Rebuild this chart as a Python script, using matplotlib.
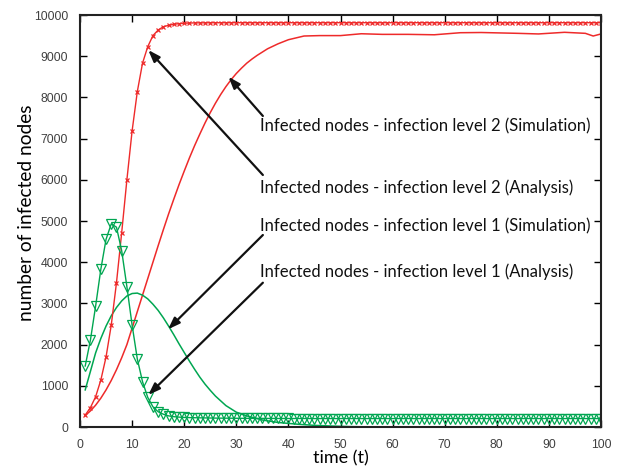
import numpy as np
import matplotlib.pyplot as plt

# time steps of the simulation runs
t_sim = list(range(1, 101))

# infection level 2, simulation (red, x markers)
lvl2_sim = [290, 470, 735, 1140, 1700, 2475, 3500, 4715, 6000, 7185,
            8140, 8830, 9230, 9500, 9635, 9715, 9750, 9775, 9790, 9800,
            9805, 9808, 9810, 9810, 9812, 9812, 9812, 9812, 9813, 9813,
            9813, 9813, 9813, 9813, 9813, 9813, 9813, 9813, 9813, 9813,
            9813, 9813, 9813, 9813, 9813, 9813, 9813, 9813, 9813, 9813,
            9813, 9813, 9813, 9813, 9813, 9813, 9813, 9813, 9813, 9813,
            9813, 9813, 9813, 9813, 9813, 9813, 9813, 9813, 9813, 9813,
            9813, 9813, 9813, 9813, 9813, 9813, 9813, 9813, 9813, 9813,
            9813, 9813, 9813, 9813, 9813, 9813, 9813, 9813, 9813, 9813,
            9813, 9813, 9813, 9813, 9813, 9813, 9813, 9813, 9813, 9813]

# infection level 1, simulation (green, triangles)
lvl1_sim = [1480, 2110, 2935, 3830, 4555, 4930, 4850, 4280, 3405, 2475,
            1650, 1100, 720, 490, 370, 310, 270, 250, 240, 232,
            228, 225, 222, 220, 218, 216, 215, 214, 213, 212,
            211, 210, 210, 209, 209, 208, 208, 207, 207, 207,
            206, 206, 206, 205, 205, 205, 205, 205, 205, 205,
            205, 205, 205, 205, 205, 205, 205, 205, 205, 205,
            205, 205, 205, 205, 205, 205, 205, 205, 205, 205,
            205, 205, 205, 205, 205, 205, 205, 205, 205, 205,
            205, 205, 205, 205, 205, 205, 205, 205, 205, 205,
            205, 205, 205, 205, 205, 205, 205, 205, 205, 205]

# infection level 2, analysis (red line)
t_an2 = [1, 2, 3, 4, 5, 6, 7, 8, 9, 10, 11, 12, 13, 14, 15, 16, 17, 18, 19,
         20, 21, 22, 23, 24, 25, 26, 27, 28, 29, 30, 31, 32, 33, 34, 35, 36,
         38, 40, 43, 46, 50, 54, 58, 63, 68, 73, 77, 84, 88, 93, 97, 98.5, 100]
lvl2_an = [280, 390, 530, 700, 900, 1130, 1390, 1680, 2000, 2400, 2800, 3200,
           3600, 4000, 4400, 4790, 5170, 5530, 5880, 6210, 6530, 6830, 7110,
           7380, 7630, 7860, 8070, 8260, 8430, 8580, 8710, 8830, 8930, 9020,
           9100, 9180, 9300, 9400, 9490, 9500, 9500, 9545, 9530, 9530, 9520,
           9570, 9575, 9555, 9540, 9580, 9555, 9490, 9540]

# infection level 1, analysis (green line)
t_an1 = [1, 2, 3, 4, 5, 6, 7, 8, 9, 10, 11, 12, 13, 14, 15, 16, 17, 18, 19,
         20, 21, 22, 23, 24, 25, 26, 28, 30, 32, 35, 38, 42, 45, 48, 52, 57,
         65, 80, 100]
lvl1_an = [900, 1350, 1800, 2150, 2450, 2700, 2900, 3060, 3180, 3240, 3250,
           3200, 3110, 2980, 2830, 2650, 2450, 2240, 2020, 1810, 1600, 1400,
           1210, 1040, 890, 750, 520, 360, 270, 170, 110, 65, 40, 25, 10, 0,
           0, 0, 0]

labels = ["Infected nodes - infection level 2 (Simulation)",
          "Infected nodes - infection level 2 (Analysis)",
          "Infected nodes - infection level 1 (Simulation)",
          "Infected nodes - infection level 1 (Analysis)"]
# (text x, text y, arrow tip x, arrow tip y) in data units
label_pos = [(34.5, 7290, 28.5, 8500),
             (34.5, 5818, 13.1, 9150),
             (34.5, 4879, 16.9, 2371),
             (34.5, 3770, 13.1, 777)]
tails = [(35.1, 7549), (35.1, 6117), (35.1, 4660), (35.1, 3502)]

red = '#ee2a2a'
green = '#00a651'

fig = plt.figure(figsize=(6.22, 4.71), dpi=100)
ax = fig.add_axes([80 / 622, 1 - 427 / 471, 521 / 622, 412 / 471])

ax.plot(t_an2, lvl2_an, color=red, lw=1.1)
ax.plot(t_an1, lvl1_an, color=green, lw=1.1)
ax.plot(t_sim, lvl2_sim, color=red, lw=1.0, marker='x', ms=3.5, mew=0.9)
ax.plot(t_sim, lvl1_sim, color=green, lw=1.0, marker='v', ms=7,
        mfc='none', mew=0.9)

for lab, (tx, ty, hx, hy), (sx, sy) in zip(labels, label_pos, tails):
    ax.annotate('', xy=(hx, hy), xytext=(sx, sy),
                arrowprops=dict(arrowstyle='-|>,head_length=0.7,head_width=0.25',
                                color='#111111', lw=1.6, shrinkA=0, shrinkB=0))
    ax.text(tx, ty, lab, fontsize=12, family='Lato', va='center',
            ha='left', color='#111111')

ax.set_xlim(0, 100)
ax.set_ylim(0, 10000)
ax.set_xticks(np.arange(0, 101, 10))
ax.set_yticks(np.arange(0, 10001, 1000))
ax.tick_params(direction='in', length=5, width=1, top=True, right=True,
               labelsize=8.8, labelcolor='#404040', pad=8.5)
for lbl in ax.get_xticklabels() + ax.get_yticklabels():
    lbl.set_family('Liberation Sans')
for s in ax.spines.values():
    s.set_linewidth(1.5)
    s.set_color('#222222')

ax.set_xlabel('time (t)', fontsize=13, family='Lato')
ax.set_ylabel('number of infected nodes', fontsize=13.8, family='Lato')
ax.xaxis.set_label_coords(0.50, -0.075)
ax.xaxis.label.set_va('center')
ax.yaxis.set_label_coords(-0.102, 0.52)
ax.yaxis.label.set_va('center')

fig.savefig('out.png', dpi=100)
